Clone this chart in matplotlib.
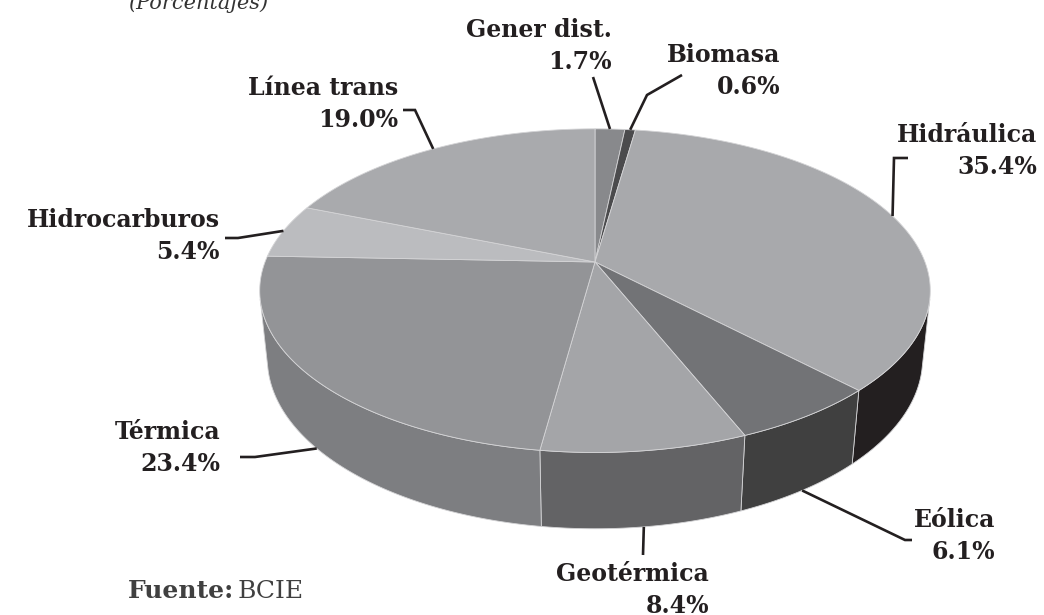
import numpy as np
import matplotlib
matplotlib.use("Agg")
import matplotlib.pyplot as plt
from matplotlib.patches import Polygon

# data
labels = ["Gener dist.", "Biomasa", "Hidráulica", "Eólica",
          "Geotérmica", "Térmica", "Hidrocarburos", "Línea trans"]
values = [1.7, 0.6, 35.4, 6.1, 8.4, 23.4, 5.4, 19.0]
top_colors = ["#88898c", "#4b4b4d", "#a8a9ac", "#727376",
              "#a4a5a8", "#939497", "#bbbcbf", "#a9aaad"]
side_colors = ["#5e5f61", "#2e2e30", "#231f20", "#404040",
               "#636365", "#7d7e81", "#8a8b8e", "#7f8083"]

# layout: text right edge / block centre, leader end + elbow (pixels)
text_pos = [(612, 46), (780, 71), (1037, 151), (995, 536),
            (709, 590), (220, 448), (220, 236), (398, 104)]
leader_pts = [[(593, 77)], [(682, 75), (647, 95)], [(908, 158), (894, 158)],
              [(912, 540), (905, 540)], [(643, 555)], [(240, 457), (255, 457)],
              [(225, 238), (238, 238)], [(403, 110), (415, 110)]]

# 3d pie geometry (perspective camera)
CX, CY = 595, 262
F = 1640
L = 4.97
PHI = np.arcsin(0.475)
H = 0.237
S, C = np.sin(PHI), np.cos(PHI)


def proj(theta, z):
    t = np.radians(theta)
    X, Y = np.sin(t), np.cos(t)
    depth = L + Y * C - z * S
    return CX + F * X / depth, CY - F * (Y * S + z * C) / depth


fig = plt.figure(figsize=(10.44, 6.15), dpi=100)
ax = fig.add_axes([0, 0, 1, 1])
ax.set_xlim(0, 1044)
ax.set_ylim(615, 0)
ax.axis("off")

bounds = np.concatenate([[0], np.cumsum(values)]) / sum(values) * 360
ts = np.degrees(np.arccos(-1 / (L * C)))
edge = "#d4d4d6"

# side walls
for i in range(len(values)):
    a0, a1 = max(bounds[i], ts), min(bounds[i + 1], 360 - ts)
    if a0 >= a1:
        continue
    t = np.linspace(a0, a1, 120)
    xt, yt = proj(t, 0)
    xb, yb = proj(t, -H)
    pts = np.column_stack([np.concatenate([xt, xb[::-1]]),
                           np.concatenate([yt, yb[::-1]])])
    ax.add_patch(Polygon(pts, closed=True, fc=side_colors[i], ec=edge, lw=0.6))

# top faces
for i in range(len(values)):
    t = np.linspace(bounds[i], bounds[i + 1], 200)
    xt, yt = proj(t, 0)
    pts = np.column_stack([np.concatenate([[CX], xt]), np.concatenate([[CY], yt])])
    ax.add_patch(Polygon(pts, closed=True, fc=top_colors[i], ec=edge, lw=0.6))

# labels + leaders
font = dict(family="DejaVu Serif", fontweight="bold", fontsize=17, color="#231f20")
for i, (lab, val) in enumerate(zip(labels, values)):
    m = (bounds[i] + bounds[i + 1]) / 2
    ax_x, ax_y = proj(m, -H) if ts < m < 360 - ts else proj(m, 0)
    pts = leader_pts[i] + [(ax_x, ax_y)]
    ax.plot([p[0] for p in pts], [p[1] for p in pts], color="#231f20", lw=1.9,
            solid_capstyle="butt", solid_joinstyle="miter")
    tx, ty = text_pos[i]
    ax.text(tx, ty, f"{lab}\n{val:.1f}%", ha="right", va="center",
            multialignment="right", linespacing=1.4, **font)

ax.text(128, 9, "(Porcentajes)", family="DejaVu Serif", style="italic",
        fontsize=15, color="#333333", ha="left", va="baseline")
ax.text(128, 598, "Fuente:", family="DejaVu Serif", fontweight="bold",
        fontsize=18, color="#404040", ha="left", va="baseline")
ax.text(238, 598, "BCIE", family="DejaVu Serif", fontsize=18,
        color="#404040", ha="left", va="baseline")

fig.savefig("out.png", dpi=100)
